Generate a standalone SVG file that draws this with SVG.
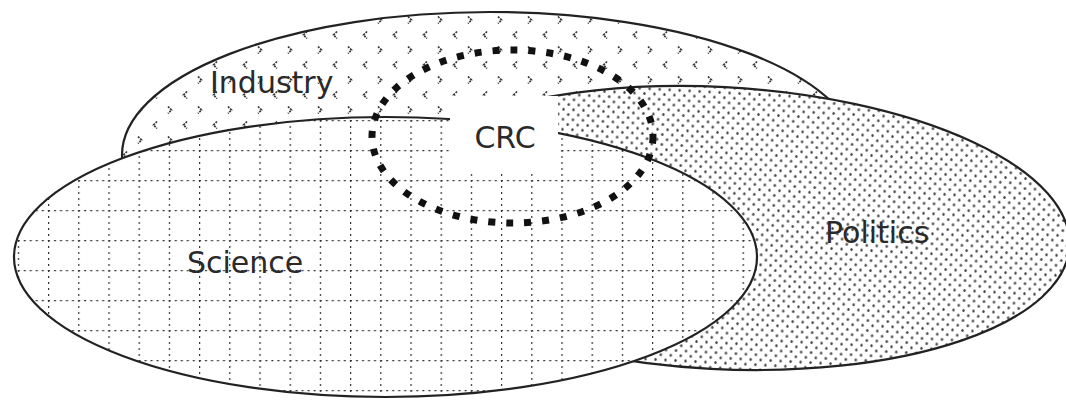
<svg xmlns="http://www.w3.org/2000/svg" width="1066" height="404" viewBox="0 0 1066 404">
<style>
.outline{stroke:#222;stroke-width:2.2}
.label{font-family:"DejaVu Sans",sans-serif;font-size:30px;fill:#2a2a2a}
.ch{fill:none;stroke:#333;stroke-width:1.7;stroke-dasharray:2 1}
</style>
<defs>
<pattern id="chev" patternUnits="userSpaceOnUse" x="5" y="5" width="30" height="30">
<rect width="30" height="30" fill="#fff"/>
<polyline class="ch" points="2,-3.5 -1.5,0 2,3.5"/>
<polyline class="ch" points="32,-3.5 28.5,0 32,3.5"/>
<polyline class="ch" points="2,26.5 -1.5,30 2,33.5"/>
<polyline class="ch" points="32,26.5 28.5,30 32,33.5"/>
<polyline class="ch" points="13,11.5 16.5,15 13,18.5"/>
</pattern>
<pattern id="grid" patternUnits="userSpaceOnUse" x="48" y="0" width="30.2" height="30">
<rect width="30.2" height="30" fill="#fff"/>
<line x1="0" y1="0" x2="30.2" y2="0" stroke="#333" stroke-width="2.4" stroke-dasharray="2 4"/>
<line x1="0" y1="0" x2="0" y2="30" stroke="#333" stroke-width="2.4" stroke-dasharray="2 4"/>
</pattern>
<pattern id="dots" patternUnits="userSpaceOnUse" width="10" height="10">
<rect width="10" height="10" fill="#fff"/>
<ellipse cx="2.5" cy="2.5" rx="1.2" ry="1.6" fill="#444"/>
<ellipse cx="7.5" cy="7.5" rx="1.2" ry="1.6" fill="#444"/>
</pattern>
</defs>
<rect width="1066" height="404" fill="#fff"/>
<g id="industry">
<ellipse cx="490" cy="155" rx="368" ry="143" fill="url(#chev)" class="outline"/>
</g>
<g id="politics">
<ellipse cx="718" cy="228" rx="352" ry="141" transform="rotate(3 718 228)" fill="url(#dots)" class="outline"/>
</g>
<g id="science">
<ellipse cx="385.5" cy="257" rx="371.5" ry="140" fill="url(#grid)" class="outline"/>
</g>
<g id="crc">
<rect x="450" y="96" width="108" height="76" fill="#fff"/>
<ellipse cx="512.5" cy="136.5" rx="140.5" ry="86.5" fill="none" stroke="#111" stroke-width="7" stroke-dasharray="7 11"/>
<text class="label" x="505" y="148" text-anchor="middle">CRC</text>
</g>
<g id="connectors"></g>
<g id="labels">
<text class="label" x="210" y="93">Industry</text>
<text class="label" x="187" y="273">Science</text>
<text class="label" x="825" y="243">Politics</text>
</g>
</svg>
